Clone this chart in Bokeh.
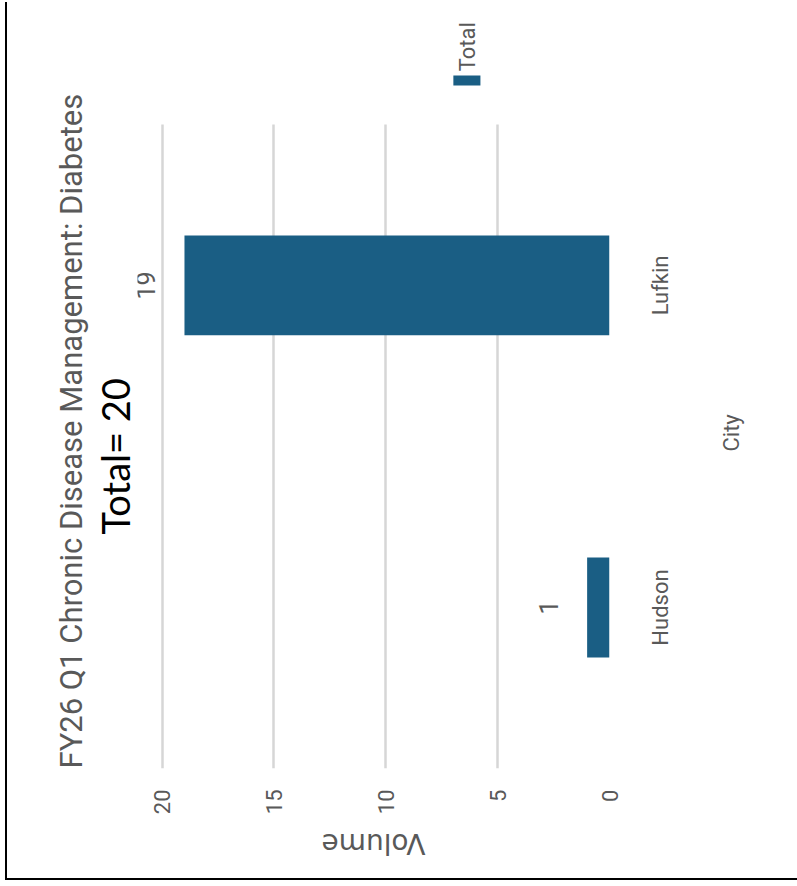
import math
from bokeh.plotting import figure
from bokeh.models import Range1d, FixedTicker, Title, InlineStyleSheet
from bokeh.embed import file_html
from bokeh.resources import INLINE
from bokeh.core.properties import value

# ---- data ----
cities = ["Hudson", "Lufkin"]
volumes = [1, 19]
volume_ticks = [0, 5, 10, 15, 20]
title_text = "FY26 Q1 Chronic Disease Management: Diabetes"
total_note = "Total= 20"
series_name = "Total"
x_label = "City"
y_label = "Volume"

BAR = "#1a5e84"
GREY = "#595959"
GRID = "#d6d6d6"
FONT = "Roboto"

# one slot per city on the category axis
positions = [i + 0.5 for i in range(len(cities))]

# The reference is an ordinary column chart turned 90 degrees counter-clockwise,
# so the chart is built upright and its drawing surface is rotated with CSS.
# A square surface keeps the rotated and unrotated sizes identical.
p = figure(width=878, height=878, title=None,
           x_range=Range1d(0, len(cities) + 0.363), y_range=Range1d(0, 21.1),
           output_backend="svg", toolbar_location=None,
           min_border_left=109, min_border_right=8,
           min_border_top=130, min_border_bottom=276)
p.styles = {"margin-left": "5px"}
p.stylesheets = [InlineStyleSheet(css="""
.bk-Canvas {
  transform-origin: 0 0;
  transform: translate(0px, 880px) rotate(-90deg);
  border-top: 2px solid black;
  border-left: 2px solid black;
}
""")]

p.outline_line_color = None
p.background_fill_color = "white"
p.border_fill_color = "white"

# grid: horizontal value lines across the category slots only
p.xgrid.grid_line_color = None
grid = p.ygrid[0]
grid.ticker = FixedTicker(ticks=volume_ticks)
grid.grid_line_color = GRID
grid.grid_line_width = 2.5
try:
    grid.cross_bounds = (0, len(cities))
except Exception:
    pass

# value axis (left)
ya = p.yaxis[0]
ya.ticker = FixedTicker(ticks=volume_ticks)
ya.axis_line_color = None
ya.major_tick_line_color = None
ya.minor_tick_line_color = None
ya.major_tick_out = 0
ya.major_tick_in = 0
ya.major_label_standoff = 21
ya.major_label_text_font = FONT
ya.major_label_text_font_size = "22px"
ya.major_label_text_color = GREY
ya.axis_label = y_label
ya.axis_label_standoff = 10
ya.axis_label_text_font = "DejaVu Sans"
ya.axis_label_text_font_size = "28px"
ya.axis_label_text_font_style = "normal"
ya.axis_label_text_color = GREY

# category axis (bottom)
xa = p.xaxis[0]
xa.ticker = FixedTicker(ticks=positions)
xa.major_label_overrides = {pos: c for pos, c in zip(positions, cities)}
xa.axis_line_color = None
xa.major_tick_line_color = None
xa.minor_tick_line_color = None
xa.major_tick_out = 0
xa.major_tick_in = 0
xa.major_label_standoff = 38
xa.major_label_text_font = FONT
xa.major_label_text_font_size = "22px"
xa.major_label_text_color = GREY

# category axis title, placed under the middle of the two slots
p.add_layout(Title(text=x_label, align="left", offset=317, standoff=82,
                   text_font=FONT, text_font_size="22px",
                   text_font_style="normal", text_color=GREY), "below")

# bars
p.vbar(x=positions, top=volumes, width=0.31, fill_color=BAR, line_color=None)

# value labels
p.text(x=positions, y=volumes, text=[str(v) for v in volumes],
       y_offset=-39, text_align="center", text_baseline="alphabetic",
       text_font=value(FONT), text_font_size="25px", text_color=GREY)

# titles: the note sits next to the plot, the main title outside it
p.add_layout(Title(text=total_note, align="left", offset=234, standoff=0,
                   text_font="Lato", text_font_size="38px",
                   text_font_style="normal", text_color="black"), "above")
p.add_layout(Title(text=title_text, align="left", offset=0, standoff=0,
                   text_font=FONT, text_font_size="31px",
                   text_font_style="normal", text_color=GREY), "above")

# legend (swatch + label) beside the category slots
legend_x = len(cities) + 0.121
p.quad(left=[legend_x], right=[legend_x + 0.031], bottom=[5.77], top=[6.98],
       fill_color=BAR, line_color=None)
p.text(x=[legend_x + 0.044], y=[6.35], text=[series_name],
       text_align="left", text_baseline="middle",
       text_font=value(FONT), text_font_size="22px", text_color=GREY)

open("out.html", "w").write(file_html(p, INLINE))
